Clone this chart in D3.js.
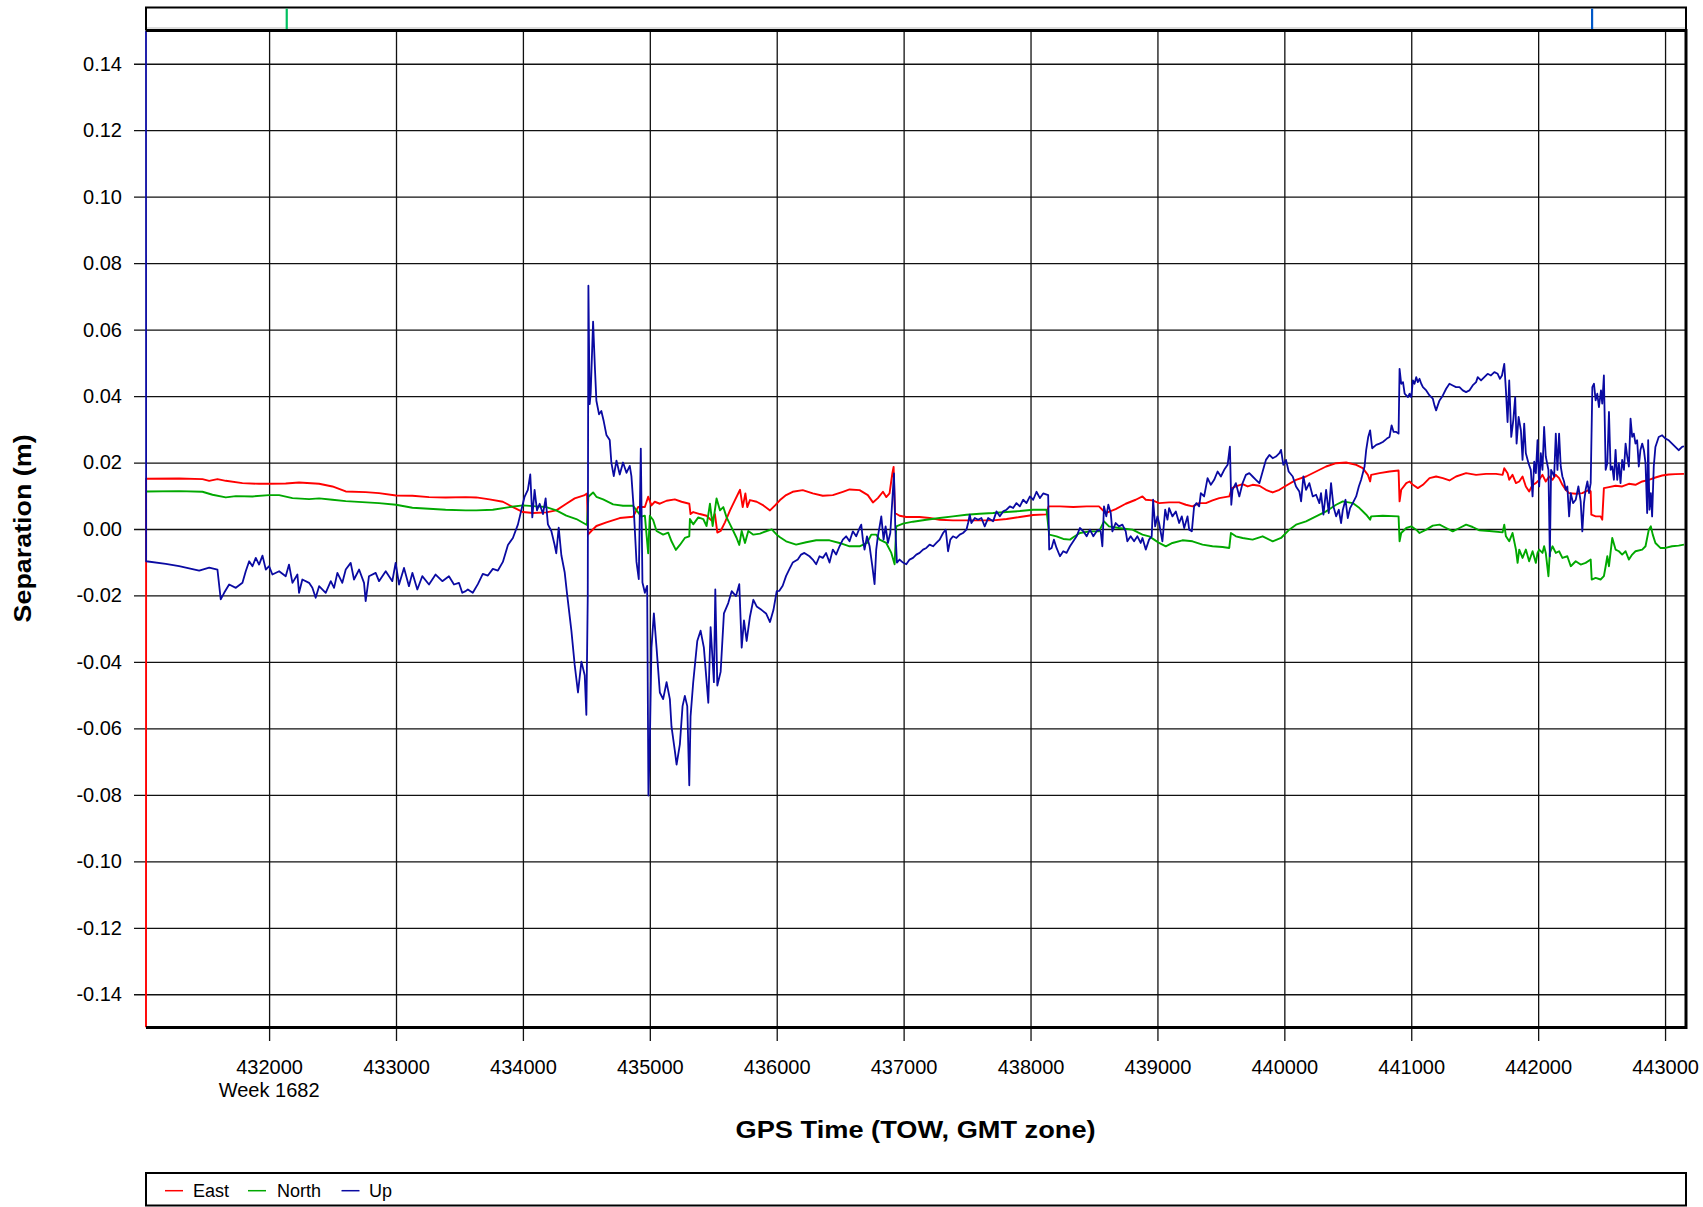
<!DOCTYPE html>
<html>
<head>
<meta charset="utf-8">
<script src="https://cdn.jsdelivr.net/npm/d3@7/dist/d3.min.js"></script>
<style>
  html, body { margin: 0; padding: 0; background: #fff; }
  svg { display: block; }
  text { font-family: "Liberation Sans", Arial, sans-serif; fill: #000; }
</style>
</head>
<body>
<svg id="chart" width="1703" height="1207"></svg>
<script>
// ---------------- DATA ----------------
const seriesNames = ["East", "North", "Up"];
const xTicks = [432000, 433000, 434000, 435000, 436000, 437000, 438000, 439000, 440000, 441000, 442000, 443000];
const yTicks = [-0.14, -0.12, -0.10, -0.08, -0.06, -0.04, -0.02, 0.00, 0.02, 0.04, 0.06, 0.08, 0.10, 0.12, 0.14];
const weekLabel = "Week 1682";
const xTitle = "GPS Time (TOW, GMT zone)";
const yTitle = "Separation (m)";
const xDomain = [431030, 443165];
const yDomain = [-0.15, 0.15];
// top strip markers (time of week)
const markerTimes = [432139, 442425];

const eastData = [
[431030,-0.15],[431031,0.0151],[431291,0.0152],[431475,0.0150],[431528,0.0145],[431593,0.0150],[431659,0.0145],
[431790,0.0138],[431921,0.0136],[432000,0.0136],[432131,0.0137],[432236,0.0140],[432394,0.0136],[432499,0.0128],
[432604,0.0113],[432761,0.0111],[432866,0.0108],[433000,0.0101],[433129,0.0100],[433260,0.0096],[433391,0.0095],
[433549,0.0096],[433632,0.0095],[433737,0.0089],[433842,0.0082],[433921,0.0066],[434000,0.0051],[434079,0.0048],
[434184,0.0050],[434263,0.0056],[434342,0.0076],[434408,0.0092],[434487,0.0102],[434505,0.0107],[434513,-0.0017],
[434539,-0.0006],[434579,0.0009],[434658,0.0020],[434763,0.0033],[434868,0.0037],[434908,0.0066],[434961,0.0066],
[434987,0.0097],[435013,0.0071],[435039,0.0082],[435079,0.0076],[435132,0.0085],[435197,0.0089],[435250,0.0082],
[435311,0.0076],[435321,0.0045],[435342,0.0051],[435395,0.0045],[435447,0.0040],[435487,0.0025],[435513,0.0045],
[435532,-0.0011],[435558,-0.0006],[435592,0.0020],[435632,0.0056],[435671,0.0087],[435711,0.0118],[435732,0.0066],
[435753,0.0107],[435768,0.0066],[435789,0.0087],[435842,0.0082],[435895,0.0071],[435947,0.0056],[435987,0.0071],
[436026,0.0087],[436074,0.0102],[436126,0.0112],[436205,0.0117],[436284,0.0107],[436363,0.0100],[436442,0.0102],
[436521,0.0112],[436574,0.0119],[436653,0.0117],[436718,0.0102],[436758,0.0080],[436797,0.0093],[436837,0.0112],
[436863,0.0096],[436889,0.0107],[436911,0.0167],[436921,0.0187],[436932,0.0048],[436968,0.0040],[437021,0.0036],
[437126,0.0036],[437205,0.0033],[437284,0.0028],[437389,0.0026],[437495,0.0026],[437600,0.0026],[437705,0.0026],
[437811,0.0030],[437916,0.0036],[438021,0.0042],[438126,0.0044],[438142,0.0068],[438232,0.0068],[438337,0.0066],
[438442,0.0068],[438539,0.0068],[438566,0.0058],[438592,0.0048],[438671,0.0060],[438750,0.0076],[438829,0.0088],
[438882,0.0098],[438908,0.0088],[438961,0.0086],[439013,0.0078],[439092,0.0080],[439171,0.0080],[439224,0.0073],
[439276,0.0068],[439329,0.0078],[439382,0.0078],[439434,0.0086],[439487,0.0093],[439566,0.0098],[439587,0.0123],
[439618,0.0128],[439671,0.0135],[439711,0.0128],[439750,0.0133],[439803,0.0130],[439855,0.0118],[439908,0.0110],
[439961,0.0118],[440013,0.0130],[440092,0.0148],[440171,0.0158],[440250,0.0173],[440329,0.0188],[440408,0.0198],
[440487,0.0200],[440566,0.0193],[440618,0.0183],[440658,0.0163],[440676,0.0143],[440684,0.0163],[440750,0.0168],
[440829,0.0173],[440900,0.0176],[440908,0.0083],[440921,0.0118],[440961,0.0138],[440987,0.0143],[441013,0.0133],
[441052,0.0123],[441092,0.0133],[441144,0.0153],[441196,0.0158],[441249,0.0153],[441301,0.0146],[441353,0.0158],
[441432,0.0168],[441511,0.0163],[441589,0.0166],[441668,0.0166],[441720,0.0163],[441733,0.0183],[441759,0.0168],
[441772,0.0148],[441798,0.0163],[441825,0.0138],[441851,0.0143],[441877,0.0158],[441903,0.0128],[441929,0.0113],
[441956,0.0133],[441982,0.0138],[442008,0.0148],[442034,0.0163],[442060,0.0143],[442086,0.0158],[442113,0.0148],
[442139,0.0163],[442165,0.0153],[442191,0.0133],[442217,0.0118],[442244,0.0108],[442296,0.0106],[442348,0.0108],
[442401,0.0118],[442414,0.0113],[442419,0.0043],[442453,0.0038],[442492,0.0038],[442505,0.0028],[442518,0.0123],
[442558,0.0126],[442610,0.0130],[442662,0.0128],[442715,0.0136],[442767,0.0133],[442820,0.0143],[442872,0.0148],
[442924,0.0155],[442977,0.0161],[443029,0.0164],[443081,0.0165],[443149,0.0166]
];

const northData = [
[431031,0.0113],[431291,0.0114],[431475,0.0112],[431554,0.0103],[431659,0.0095],[431738,0.0099],[431869,0.0098],
[432000,0.0102],[432079,0.0102],[432184,0.0093],[432315,0.0090],[432394,0.0092],[432499,0.0088],[432604,0.0084],
[432866,0.0078],[433000,0.0073],[433129,0.0064],[433391,0.0058],[433549,0.0056],[433632,0.0056],[433763,0.0058],
[433895,0.0066],[434000,0.0071],[434105,0.0068],[434184,0.0066],[434263,0.0056],[434342,0.0040],[434421,0.0030],
[434505,0.0012],[434516,0.0097],[434553,0.0110],[434579,0.0097],[434632,0.0089],[434711,0.0074],[434789,0.0070],
[434868,0.0070],[434895,0.0056],[434934,0.0037],[434961,0.0040],[434987,-0.0073],[435000,0.0040],[435026,0.0027],
[435053,-0.0006],[435105,-0.0017],[435145,-0.0011],[435171,-0.0037],[435205,-0.0063],[435237,-0.0048],[435276,-0.0027],
[435311,-0.0022],[435316,0.0030],[435342,0.0014],[435382,0.0035],[435421,0.0030],[435447,0.0009],[435474,0.0076],
[435495,0.0009],[435526,0.0092],[435553,0.0056],[435579,0.0066],[435605,0.0035],[435645,0.0004],[435684,-0.0027],
[435705,-0.0048],[435724,-0.0006],[435750,-0.0042],[435776,-0.0006],[435816,-0.0017],[435868,-0.0014],[435921,-0.0006],
[435961,-0.0001],[436000,-0.0017],[436026,-0.0025],[436074,-0.0037],[436153,-0.0047],[436232,-0.0040],[436311,-0.0034],
[436416,-0.0034],[436495,-0.0042],[436574,-0.0052],[436653,-0.0052],[436711,-0.0042],[436745,-0.0017],[436784,-0.0017],
[436811,-0.0032],[436863,-0.0042],[436903,-0.0072],[436929,-0.0106],[436942,0.0008],[436995,0.0016],[437074,0.0022],
[437179,0.0028],[437284,0.0033],[437389,0.0038],[437495,0.0043],[437600,0.0046],[437705,0.0048],[437811,0.0051],
[437916,0.0054],[438021,0.0058],[438126,0.0058],[438147,-0.0017],[438205,-0.0022],[438258,-0.0030],[438311,-0.0032],
[438337,-0.0025],[438389,-0.0012],[438468,-0.0007],[438539,-0.0007],[438579,0.0023],[438618,0.0008],[438697,0.0003],
[438803,-0.0002],[438882,-0.0017],[438934,-0.0022],[438974,-0.0032],[439013,-0.0042],[439066,-0.0052],[439118,-0.0042],
[439197,-0.0034],[439276,-0.0037],[439355,-0.0047],[439434,-0.0052],[439513,-0.0054],[439566,-0.0057],[439579,-0.0012],
[439618,-0.0022],[439671,-0.0027],[439750,-0.0032],[439829,-0.0022],[439908,-0.0037],[439974,-0.0027],[440039,-0.0002],
[440092,0.0013],[440171,0.0023],[440250,0.0038],[440329,0.0053],[440408,0.0073],[440461,0.0083],[440539,0.0078],
[440592,0.0063],[440645,0.0043],[440676,0.0028],[440684,0.0038],[440776,0.0040],[440900,0.0038],[440908,-0.0037],
[440921,-0.0012],[440961,0.0003],[441000,0.0008],[441039,-0.0002],[441065,-0.0012],[441118,-0.0002],[441170,0.0010],
[441223,0.0013],[441275,0.0003],[441327,-0.0007],[441380,0.0003],[441432,0.0013],[441484,0.0006],[441537,-0.0004],
[441615,-0.0006],[441720,-0.0010],[441733,0.0013],[441746,-0.0022],[441772,-0.0037],[441798,-0.0012],[441825,-0.0062],
[441838,-0.0102],[441851,-0.0062],[441877,-0.0087],[441903,-0.0062],[441929,-0.0097],[441956,-0.0067],[441982,-0.0102],
[441995,-0.0072],[442008,-0.0062],[442034,-0.0072],[442047,-0.0052],[442060,-0.0072],[442081,-0.0142],[442092,-0.0072],
[442113,-0.0052],[442139,-0.0072],[442165,-0.0067],[442191,-0.0087],[442230,-0.0082],[442257,-0.0112],[442296,-0.0097],
[442335,-0.0107],[442374,-0.0102],[442414,-0.0092],[442422,-0.0152],[442453,-0.0147],[442492,-0.0152],[442518,-0.0142],
[442532,-0.0112],[442545,-0.0082],[442558,-0.0112],[442584,-0.0027],[442610,-0.0062],[442636,-0.0067],[442662,-0.0077],
[442689,-0.0067],[442715,-0.0092],[442741,-0.0077],[442767,-0.0067],[442820,-0.0062],[442846,-0.0052],[442872,-0.0002],
[442888,0.0008],[442903,-0.0017],[442924,-0.0042],[442963,-0.0057],[443003,-0.0057],[443055,-0.0052],[443107,-0.0050],
[443149,-0.0047]
];

const upData = [
[431030,0.15],[431031,-0.0097],[431186,-0.0105],[431291,-0.0112],[431449,-0.0125],[431528,-0.0116],[431593,-0.0122],
[431619,-0.0212],[431646,-0.0192],[431685,-0.0167],[431738,-0.0177],[431790,-0.0162],[431816,-0.0127],[431843,-0.0097],
[431869,-0.0112],[431895,-0.0087],[431921,-0.0107],[431948,-0.0080],[431974,-0.0122],[432000,-0.0112],[432026,-0.0137],
[432079,-0.0127],[432131,-0.0142],[432157,-0.0107],[432184,-0.0162],[432223,-0.0137],[432236,-0.0192],[432262,-0.0152],
[432315,-0.0162],[432341,-0.0177],[432367,-0.0207],[432394,-0.0172],[432446,-0.0192],[432486,-0.0157],[432512,-0.0177],
[432538,-0.0132],[432577,-0.0162],[432604,-0.0122],[432643,-0.0102],[432669,-0.0152],[432709,-0.0122],[432748,-0.0162],
[432761,-0.0217],[432787,-0.0142],[432840,-0.0132],[432866,-0.0157],[432919,-0.0127],[432971,-0.0157],[432997,-0.0102],
[433024,-0.0167],[433063,-0.0117],[433102,-0.0172],[433129,-0.0132],[433168,-0.0182],[433207,-0.0142],[433260,-0.0167],
[433312,-0.0137],[433365,-0.0157],[433417,-0.0142],[433457,-0.0167],[433496,-0.0162],[433522,-0.0192],[433549,-0.0187],
[433566,-0.0182],[433605,-0.0192],[433645,-0.0166],[433684,-0.0135],[433724,-0.0140],[433763,-0.0120],[433803,-0.0125],
[433842,-0.0099],[433882,-0.0048],[433921,-0.0027],[433961,0.0014],[433987,0.0056],[434013,0.0097],[434039,0.0118],
[434058,0.0164],[434074,0.0035],[434092,0.0118],[434111,0.0056],[434132,0.0076],[434158,0.0045],[434179,0.0092],
[434197,0.0014],[434224,-0.0006],[434250,-0.0048],[434263,-0.0073],[434282,0.0004],[434303,-0.0079],[434329,-0.0130],
[434347,-0.0192],[434382,-0.0306],[434408,-0.0409],[434434,-0.0492],[434461,-0.0399],[434487,-0.0440],[434500,-0.0559],
[434511,-0.0202],[434516,0.0732],[434526,0.0376],[434534,0.0407],[434553,0.0624],[434568,0.0479],[434579,0.0386],
[434600,0.0345],[434618,0.0355],[434637,0.0324],[434658,0.0283],[434684,0.0268],[434697,0.0200],[434716,0.0159],
[434737,0.0206],[434763,0.0164],[434789,0.0200],[434816,0.0169],[434842,0.0190],[434855,0.0159],[434874,0.0056],
[434895,-0.0099],[434913,-0.0151],[434929,0.0242],[434942,-0.0161],[434961,-0.0192],[434979,-0.0171],[434989,-0.0802],
[435000,-0.0647],[435013,-0.0357],[435032,-0.0254],[435053,-0.0357],[435079,-0.0492],[435105,-0.0512],[435132,-0.0461],
[435158,-0.0512],[435171,-0.0595],[435197,-0.0667],[435211,-0.0709],[435237,-0.0647],[435258,-0.0533],[435276,-0.0502],
[435295,-0.0533],[435311,-0.0771],[435321,-0.0564],[435342,-0.0461],[435374,-0.0337],[435400,-0.0306],[435426,-0.0357],
[435461,-0.0523],[435479,-0.0295],[435505,-0.0461],[435516,-0.0182],[435532,-0.0471],[435558,-0.0430],[435584,-0.0254],
[435618,-0.0223],[435645,-0.0187],[435679,-0.0202],[435705,-0.0166],[435724,-0.0357],[435742,-0.0275],[435763,-0.0337],
[435789,-0.0264],[435816,-0.0213],[435842,-0.0233],[435882,-0.0244],[435916,-0.0254],[435947,-0.0280],[435974,-0.0244],
[436000,-0.0187],[436021,-0.0186],[436047,-0.0171],[436074,-0.0141],[436100,-0.0121],[436126,-0.0101],[436166,-0.0092],
[436192,-0.0077],[436218,-0.0072],[436258,-0.0082],[436284,-0.0092],[436311,-0.0106],[436337,-0.0082],[436363,-0.0087],
[436389,-0.0072],[436416,-0.0101],[436442,-0.0062],[436468,-0.0077],[436495,-0.0052],[436521,-0.0032],[436547,-0.0022],
[436574,-0.0037],[436600,-0.0007],[436626,-0.0022],[436653,0.0003],[436666,0.0013],[436679,-0.0032],[436692,-0.0062],
[436711,-0.0022],[436732,-0.0052],[436753,-0.0111],[436771,-0.0166],[436784,-0.0062],[436797,-0.0022],[436811,0.0008],
[436824,0.0038],[436842,-0.0032],[436858,0.0008],[436876,-0.0042],[436895,-0.0012],[436911,0.0088],[436924,0.0167],
[436934,0.0008],[436947,-0.0101],[436968,-0.0092],[436995,-0.0101],[437021,-0.0106],[437047,-0.0092],[437074,-0.0087],
[437100,-0.0077],[437126,-0.0072],[437153,-0.0062],[437179,-0.0057],[437205,-0.0047],[437232,-0.0052],[437258,-0.0042],
[437284,-0.0032],[437311,-0.0012],[437332,-0.0002],[437350,-0.0067],[437368,-0.0032],[437389,-0.0022],[437416,-0.0027],
[437442,-0.0017],[437468,-0.0012],[437495,-0.0002],[437508,0.0018],[437521,0.0043],[437534,0.0018],[437561,0.0033],
[437587,0.0028],[437613,0.0033],[437639,0.0008],[437666,0.0033],[437705,0.0023],[437732,0.0053],[437758,0.0038],
[437784,0.0053],[437811,0.0058],[437837,0.0068],[437863,0.0063],[437889,0.0078],[437916,0.0068],[437942,0.0088],
[437968,0.0078],[437995,0.0098],[438021,0.0088],[438047,0.0112],[438074,0.0093],[438100,0.0107],[438139,0.0102],
[438147,-0.0062],[438166,-0.0057],[438184,-0.0032],[438205,-0.0057],[438232,-0.0082],[438258,-0.0067],[438284,-0.0072],
[438311,-0.0052],[438337,-0.0037],[438363,-0.0022],[438389,0.0003],[438416,-0.0007],[438442,-0.0022],[438468,-0.0002],
[438495,-0.0022],[438521,-0.0007],[438539,-0.0002],[438553,-0.0007],[438566,-0.0052],[438579,0.0068],[438597,0.0038],
[438613,0.0073],[438632,0.0048],[438645,-0.0007],[438671,0.0018],[438697,0.0008],[438724,0.0013],[438750,-0.0007],
[438763,-0.0037],[438789,-0.0022],[438816,-0.0037],[438842,-0.0022],[438868,-0.0042],[438882,-0.0027],[438908,-0.0062],
[438934,-0.0032],[438955,-0.0022],[438966,0.0088],[438982,0.0008],[439000,0.0038],[439013,0.0018],[439039,-0.0037],
[439061,0.0058],[439079,0.0028],[439092,0.0063],[439118,0.0038],[439145,0.0053],[439171,0.0018],[439192,0.0038],
[439211,0.0003],[439237,0.0038],[439250,-0.0002],[439271,-0.0007],[439289,0.0068],[439308,0.0078],[439329,0.0068],
[439342,0.0108],[439368,0.0098],[439395,0.0153],[439421,0.0133],[439447,0.0148],[439474,0.0173],[439500,0.0158],
[439526,0.0178],[439553,0.0193],[439571,0.0248],[439582,0.0073],[439592,0.0118],[439618,0.0138],[439645,0.0098],
[439671,0.0138],[439697,0.0163],[439724,0.0168],[439750,0.0158],[439776,0.0148],[439803,0.0138],[439829,0.0173],
[439855,0.0208],[439882,0.0223],[439908,0.0213],[439934,0.0218],[439961,0.0228],[439974,0.0238],[439992,0.0193],
[440013,0.0208],[440034,0.0173],[440066,0.0158],[440092,0.0128],[440118,0.0113],[440132,0.0083],[440150,0.0158],
[440171,0.0118],[440197,0.0138],[440224,0.0098],[440250,0.0103],[440276,0.0078],[440289,0.0108],[440308,0.0043],
[440329,0.0118],[440350,0.0048],[440368,0.0138],[440387,0.0068],[440408,0.0038],[440429,0.0058],[440447,0.0018],
[440461,0.0058],[440482,0.0088],[440500,0.0033],[440518,0.0063],[440539,0.0078],[440566,0.0098],[440587,0.0128],
[440605,0.0148],[440632,0.0188],[440645,0.0238],[440661,0.0277],[440676,0.0297],[440692,0.0243],[440724,0.0253],
[440750,0.0257],[440776,0.0262],[440808,0.0272],[440829,0.0277],[440845,0.0312],[440861,0.0292],[440882,0.0292],
[440900,0.0287],[440908,0.0482],[440921,0.0437],[440935,0.0442],[440948,0.0407],[440961,0.0402],[440974,0.0397],
[440987,0.0407],[441000,0.0397],[441013,0.0447],[441026,0.0437],[441039,0.0457],[441052,0.0442],[441065,0.0452],
[441079,0.0437],[441092,0.0427],[441118,0.0417],[441144,0.0402],[441170,0.0392],[441183,0.0372],[441196,0.0357],
[441209,0.0372],[441223,0.0387],[441249,0.0402],[441275,0.0422],[441301,0.0437],[441327,0.0432],[441353,0.0427],
[441380,0.0427],[441406,0.0417],[441432,0.0412],[441458,0.0417],[441484,0.0432],[441511,0.0442],[441524,0.0457],
[441550,0.0447],[441576,0.0457],[441602,0.0467],[441628,0.0462],[441655,0.0472],[441681,0.0467],[441699,0.0452],
[441715,0.0462],[441733,0.0497],[441746,0.0417],[441759,0.0322],[441772,0.0447],[441788,0.0277],[441804,0.0327],
[441819,0.0397],[441830,0.0257],[441846,0.0337],[441864,0.0297],[441877,0.0208],[441890,0.0317],[441903,0.0228],
[441924,0.0198],[441942,0.0178],[441956,0.0098],[441969,0.0203],[441982,0.0168],[441995,0.0267],[442008,0.0128],
[442021,0.0228],[442034,0.0178],[442047,0.0307],[442060,0.0218],[442081,0.0178],[442092,-0.0082],[442102,0.0178],
[442126,0.0158],[442139,0.0287],[442152,0.0178],[442165,0.0287],[442178,0.0188],[442191,0.0158],[442204,0.0143],
[442217,0.0118],[442230,0.0128],[442244,0.0038],[442257,0.0108],[442275,0.0078],[442296,0.0088],[442317,0.0128],
[442335,0.0083],[442348,-0.0007],[442361,0.0078],[442374,0.0118],[442388,0.0143],[442401,0.0108],[442414,0.0138],
[442427,0.0427],[442440,0.0437],[442453,0.0387],[442466,0.0407],[442479,0.0367],[442495,0.0417],[442505,0.0377],
[442518,0.0462],[442532,0.0178],[442545,0.0198],[442558,0.0352],[442571,0.0178],[442584,0.0188],[442597,0.0148],
[442610,0.0238],[442623,0.0148],[442636,0.0198],[442649,0.0138],[442662,0.0208],[442676,0.0178],[442689,0.0257],
[442702,0.0218],[442715,0.0188],[442728,0.0332],[442741,0.0277],[442754,0.0287],[442767,0.0257],[442780,0.0267],
[442793,0.0188],[442806,0.0238],[442820,0.0257],[442833,0.0238],[442846,0.0198],[442859,0.0048],[442867,0.0267],
[442877,0.0058],[442888,0.0108],[442898,0.0038],[442911,0.0188],[442924,0.0247],[442950,0.0277],[442977,0.0282],
[443003,0.0272],[443029,0.0267],[443055,0.0257],[443081,0.0247],[443107,0.0237],[443134,0.0247],[443149,0.0249]
];

const seriesData = [eastData, northData, upData];
const seriesColors = ["#ff0000", "#00a800", "#0a0aa2"];
const seriesWidths = [1.9, 1.9, 1.8];
const markerColors = ["#00c060", "#0058c8"];

// ---------------- LAYOUT ----------------
const svg = d3.select("#chart");
const L = 146, R = 1686, T = 30.5, B = 1027.5;
const x = d3.scaleLinear().domain(xDomain).range([L, R]);
const y = d3.scaleLinear().domain(yDomain).range([B, T]);
const fmtLocale = d3.formatLocale({decimal: ".", thousands: ",", grouping: [3], currency: ["", ""], minus: "-"});
const yFmt = fmtLocale.format(".2f");
const xFmt = fmtLocale.format("d");

svg.append("rect").attr("width", 1703).attr("height", 1207).attr("fill", "#fff");

svg.append("clipPath").attr("id", "plotclip")
  .append("rect").attr("x", L - 2).attr("y", T).attr("width", R - L + 2).attr("height", B - T);

// Y axis + horizontal grid
const yAxis = d3.axisLeft(y).tickValues(yTicks).tickFormat(yFmt)
  .tickSizeInner(-(R - 134)).tickSizeOuter(0).tickPadding(12);
const gy = svg.append("g").attr("transform", "translate(134,0)").call(yAxis);
gy.select(".domain").remove();
gy.selectAll(".tick line").attr("stroke", "#111").attr("stroke-width", 1.3);
gy.selectAll(".tick text").attr("font-size", 20).attr("fill", "#000")
  .attr("font-family", "'Liberation Sans', Arial, sans-serif");

// X axis + vertical grid
const xAxis = d3.axisBottom(x).tickValues(xTicks).tickFormat(xFmt)
  .tickSizeInner(-(1041 - T)).tickSizeOuter(0).tickPadding(19);
const gx = svg.append("g").attr("transform", "translate(0,1041)").call(xAxis);
gx.select(".domain").remove();
gx.selectAll(".tick line").attr("stroke", "#111").attr("stroke-width", 1.3);
gx.selectAll(".tick text").attr("font-size", 20).attr("fill", "#000")
  .attr("font-family", "'Liberation Sans', Arial, sans-serif");

// Week label under first tick
svg.append("text").attr("x", x(xTicks[0])).attr("y", 1097)
  .attr("text-anchor", "middle").attr("font-size", 20).text(weekLabel);

// Series lines
const line = d3.line().x(d => x(d[0])).y(d => y(d[1]));
const gLines = svg.append("g").attr("clip-path", "url(#plotclip)");
seriesData.forEach((data, i) => {
  gLines.append("path").datum(data)
    .attr("fill", "none").attr("stroke", seriesColors[i])
    .attr("stroke-width", seriesWidths[i]).attr("stroke-linejoin", "round")
    .attr("d", line);
});

// Frame (top, right, bottom)
svg.append("path")
  .attr("d", `M${L},${T} H${R} V${B} H${L}`)
  .attr("fill", "none").attr("stroke", "#000").attr("stroke-width", 3);

// Top strip box with markers
const stripTop = 7.6;
svg.append("path")
  .attr("d", `M${L},${T} V${stripTop} H${R} V${T}`)
  .attr("fill", "none").attr("stroke", "#000").attr("stroke-width", 2);
svg.append("line").attr("x1", L + 1).attr("x2", R - 1).attr("y1", T - 2.5).attr("y2", T - 2.5)
  .attr("stroke", "#bbb").attr("stroke-width", 1);
markerTimes.forEach((t, i) => {
  svg.append("line").attr("x1", x(t)).attr("x2", x(t))
    .attr("y1", stripTop + 1).attr("y2", T - 1.5)
    .attr("stroke", markerColors[i]).attr("stroke-width", 2.2);
});

// Axis titles
svg.append("text").attr("x", 915.6).attr("y", 1137.5)
  .attr("text-anchor", "middle").attr("font-size", 23).attr("font-weight", "bold")
  .attr("textLength", 360).attr("lengthAdjust", "spacingAndGlyphs")
  .text(xTitle);
svg.append("text")
  .attr("transform", "translate(30.5,528.4) rotate(-90)")
  .attr("text-anchor", "middle").attr("font-size", 23).attr("font-weight", "bold")
  .attr("textLength", 188).attr("lengthAdjust", "spacingAndGlyphs")
  .text(yTitle);

// Legend
svg.append("rect").attr("x", L).attr("y", 1173).attr("width", R - L).attr("height", 32.5)
  .attr("fill", "#fff").attr("stroke", "#000").attr("stroke-width", 2);
const legendLineX = [165, 248, 341.5];
const legendTextX = [193, 277, 369];
seriesNames.forEach((name, i) => {
  svg.append("line").attr("x1", legendLineX[i]).attr("x2", legendLineX[i] + 18)
    .attr("y1", 1190.7).attr("y2", 1190.7)
    .attr("stroke", seriesColors[i]).attr("stroke-width", 1.5);
  svg.append("text").attr("x", legendTextX[i]).attr("y", 1197.2)
    .attr("font-size", 18).text(name);
});
</script>
</body>
</html>
